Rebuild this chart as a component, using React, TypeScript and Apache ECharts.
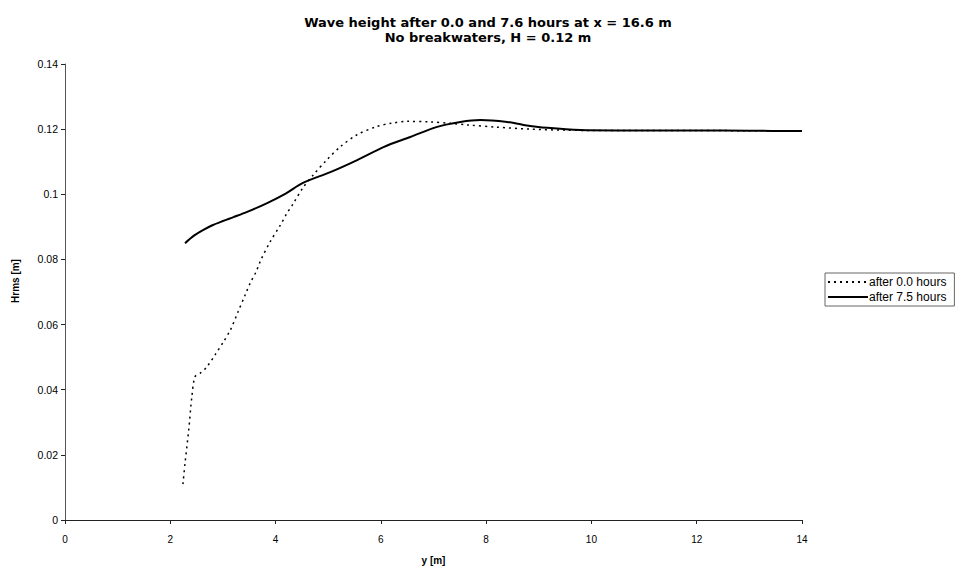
import React, { useEffect, useRef } from "react";
import * as echarts from "echarts";

const titleLines = ["Wave height after 0.0 and 7.6 hours at x = 16.6 m", "No breakwaters, H = 0.12 m"];
const seriesNames = ["after 0.0 hours", "after 7.5 hours"];
const xAxisName = "y [m]";
const yAxisName = "Hrms [m]";

const y0X = [2.24, 2.28, 2.35, 2.41, 2.47, 2.57, 2.69, 2.85, 3.01, 3.14, 3.29, 3.42, 3.52, 3.63, 3.72, 3.9, 4.09, 4.21, 4.33, 4.52, 4.72, 4.97, 5.23, 5.54, 5.92, 6.2, 6.5, 6.94, 7.32, 7.64, 8.2, 8.84, 9.47, 10, 11, 12, 13, 14];
const y0Values = [0.011, 0.0174, 0.0276, 0.0379, 0.044, 0.0451, 0.0469, 0.0507, 0.0547, 0.0583, 0.064, 0.069, 0.0728, 0.0762, 0.0798, 0.0855, 0.0905, 0.094, 0.097, 0.102, 0.106, 0.1105, 0.1146, 0.1182, 0.1208, 0.1218, 0.1224, 0.1222, 0.1218, 0.1213, 0.1206, 0.12, 0.1197, 0.1196, 0.1196, 0.1196, 0.1195, 0.1194];

const y75X = [2.28, 2.45, 2.62, 2.8, 3.0, 3.2, 3.46, 3.84, 4.2, 4.52, 5.04, 5.55, 6.05, 6.56, 7.07, 7.51, 7.89, 8.4, 8.71, 9.16, 9.79, 10.5, 11, 12, 13, 14];
const y75Values = [0.085, 0.0873, 0.089, 0.0905, 0.0918, 0.093, 0.0946, 0.0973, 0.1003, 0.1035, 0.1068, 0.1105, 0.1145, 0.1176, 0.1207, 0.1222, 0.1228, 0.1222, 0.1213, 0.1204, 0.1197, 0.1196, 0.1196, 0.1196, 0.1195, 0.1194];

const FONT = "Liberation Sans, Arial, sans-serif";
const TITLE_FONT = "DejaVu Sans, Liberation Sans, sans-serif";

export default function App() {
  const ref = useRef<HTMLDivElement>(null);
  useEffect(() => {
    if (!ref.current) return;
    const chart = echarts.init(ref.current, null, { renderer: "svg" });
    const zip = (xs: number[], ys: number[]) => xs.map((x, i) => [x, ys[i]]);
    chart.setOption({
      animation: false,
      backgroundColor: "#fff",
      textStyle: { fontFamily: FONT, color: "#000" },
      title: {
        text: titleLines.join("\n"),
        left: 483,
        top: 10,
        textAlign: "center",
        textStyle: { fontFamily: TITLE_FONT, fontSize: 13, fontWeight: "bold", color: "#000", lineHeight: 15 },
      },
      legend: {
        orient: "vertical",
        left: 825,
        top: 273,
        itemWidth: 40,
        itemHeight: 10,
        itemGap: 3,
        padding: [3, 8, 3, 2],
        borderColor: "#666",
        borderWidth: 1,
        borderRadius: 0,
        itemStyle: { opacity: 0 },
        textStyle: { fontFamily: FONT, fontSize: 12, color: "#000", padding: [0, 0, 0, -4] },
        data: seriesNames,
      },
      grid: { left: 65, right: 159, top: 64, bottom: 55, containLabel: false },
      graphic: [
        {
          type: "text",
          x: 15,
          y: 281,
          rotation: Math.PI / 2,
          style: {
            text: yAxisName,
            fontFamily: FONT,
            fontSize: 10,
            fontWeight: "bold",
            fill: "#000",
            align: "center",
            verticalAlign: "middle",
          },
        },
      ],
      xAxis: {
        type: "value",
        min: 0,
        max: 14,
        interval: 2,
        name: xAxisName,
        nameLocation: "middle",
        nameGap: 35,
        nameTextStyle: { fontFamily: FONT, fontSize: 10, fontWeight: "bold", color: "#000" },
        axisLine: { lineStyle: { color: "#222", width: 1 } },
        axisTick: { show: true, length: 4, lineStyle: { color: "#222" } },
        axisLabel: { fontFamily: FONT, fontSize: 10, color: "#000", margin: 14 },
        splitLine: { show: false },
      },
      yAxis: {
        type: "value",
        min: 0,
        max: 0.14,
        interval: 0.02,
        axisLine: { show: true, lineStyle: { color: "#555", width: 1 } },
        axisTick: { show: true, length: 4, lineStyle: { color: "#222" } },
        axisLabel: { fontFamily: FONT, fontSize: 10.5, color: "#000", margin: 7 },
        splitLine: { show: false },
      },
      series: [
        {
          name: seriesNames[0],
          type: "line",
          data: zip(y0X, y0Values),
          symbol: "none",
          smooth: 0.3,
          lineStyle: { color: "#000", width: 1.5, type: [2, 4] },
          itemStyle: { color: "#000" },
        },
        {
          name: seriesNames[1],
          type: "line",
          data: zip(y75X, y75Values),
          symbol: "none",
          smooth: 0.3,
          lineStyle: { color: "#000", width: 2, type: "solid" },
          itemStyle: { color: "#000" },
        },
      ],
    });
    return () => chart.dispose();
  }, []);
  return <div ref={ref} style={{ width: 961, height: 575, position: "absolute", left: 0, top: 0 }} />;
}
